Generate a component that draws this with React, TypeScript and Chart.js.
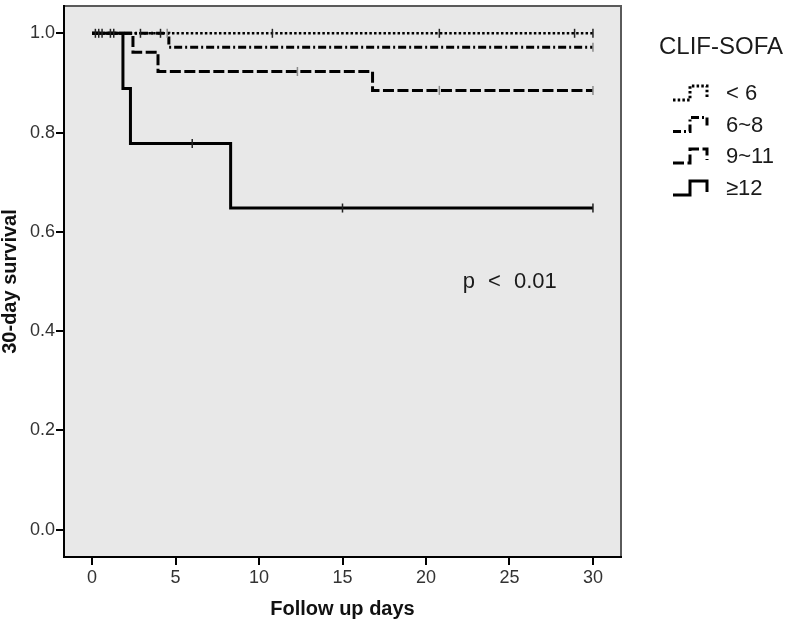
import React, { useEffect, useRef } from 'react';
import { Chart, registerables } from 'chart.js';

Chart.register(...registerables);

// ---- data ----
const legendTitle = 'CLIF-SOFA';
const groupLabels = ['< 6', '6~8', '9~11', '≥12'];
const pValueText = 'p < 0.01';
const xTitle = 'Follow up days';
const yTitle = '30-day survival';
const xTicks = [0, 5, 10, 15, 20, 25, 30];
const yTicks = [0, 0.2, 0.4, 0.6, 0.8, 1.0];

// Kaplan-Meier steps: event times (days) and survival after the event
const lt6Times = [0, 30];
const lt6Surv = [1, 1];
const s6to8Times = [0, 4.6, 30];
const s6to8Surv = [1, 0.972, 0.972];
const s9to11Times = [0, 2.45, 3.95, 16.8, 30];
const s9to11Surv = [1, 0.962, 0.923, 0.885, 0.885];
const ge12Times = [0, 1.85, 2.3, 8.3, 30];
const ge12Surv = [1, 0.889, 0.778, 0.648, 0.648];

// censored observations (days)
const lt6Censor = [0.2, 0.4, 0.6, 1.1, 1.3, 2.9, 4.1, 10.8, 20.8, 28.9, 30];
const s6to8Censor = [4.5, 30];
const s9to11Censor = [12.3, 20.8, 30];
const ge12Censor = [6.0, 15.0, 30];

const NARROW = "'Liberation Sans Narrow', 'Arial Narrow', 'Liberation Sans', Arial, sans-serif";
const SANS = "'Liberation Sans', Arial, sans-serif";

const dashes = [[2.5, 2.2], [8, 3, 2, 3], [11, 3.5], []];
const censorColors = ['#222', '#8a8a8a', '#8a8a8a', '#222'];

function survAt(times: number[], surv: number[], t: number) {
  let s = surv[0];
  for (let i = 0; i < times.length; i++) if (times[i] <= t) s = surv[i];
  return s;
}

const groups = [
  { times: lt6Times, surv: lt6Surv, censor: lt6Censor },
  { times: s6to8Times, surv: s6to8Surv, censor: s6to8Censor },
  { times: s9to11Times, surv: s9to11Surv, censor: s9to11Censor },
  { times: ge12Times, surv: ge12Surv, censor: ge12Censor },
];

const bgPlugin = {
  id: 'plotBg',
  beforeDraw(chart: any) {
    const { ctx, chartArea } = chart;
    const { left, top, right, bottom } = chartArea;
    ctx.save();
    ctx.fillStyle = '#e8e8e8';
    ctx.fillRect(left, top, right - left, bottom - top);
    ctx.strokeStyle = '#5a5a5a';
    ctx.lineWidth = 2;
    ctx.beginPath();
    ctx.moveTo(left, top);
    ctx.lineTo(right, top);
    ctx.lineTo(right, bottom);
    ctx.stroke();
    ctx.restore();
  },
};

const legendPlugin = {
  id: 'kmLegend',
  afterDraw(chart: any) {
    const { ctx, chartArea, scales } = chart;
    const { right, top } = chartArea;
    ctx.save();
    // p-value annotation
    ctx.fillStyle = '#1a1a1a';
    ctx.font = `22px ${SANS}`;
    ctx.textBaseline = 'middle';
    ctx.textAlign = 'left';
    (ctx as any).wordSpacing = '7px';
    ctx.fillText(pValueText, scales.x.getPixelForValue(22.2), scales.y.getPixelForValue(0.5));
    (ctx as any).wordSpacing = '0px';

    // legend title
    ctx.font = `24px ${SANS}`;
    ctx.fillText(legendTitle, right + 38, top + 41);

    const rowY = [top + 88, top + 119.5, top + 151, top + 183];
    groupLabels.forEach((lab, i) => {
      const cy = rowY[i];
      const x0 = right + 52;
      ctx.strokeStyle = '#000';
      ctx.lineWidth = 3;
      ctx.lineCap = 'butt';
      ctx.lineJoin = 'miter';
      ctx.setLineDash(dashes[i]);
      ctx.beginPath();
      ctx.moveTo(x0, cy + 6);
      ctx.lineTo(x0 + 17, cy + 6);
      ctx.lineTo(x0 + 17, cy - 8);
      ctx.lineTo(x0 + 34, cy - 8);
      ctx.lineTo(x0 + 34, cy + 3);
      ctx.stroke();
      ctx.setLineDash([]);
      ctx.fillStyle = '#1a1a1a';
      ctx.font = `22px ${SANS}`;
      ctx.fillText(lab, right + 105, cy);
    });
    ctx.restore();
  },
};

export default function App() {
  const ref = useRef<HTMLCanvasElement | null>(null);

  useEffect(() => {
    if (!ref.current) return;
    const datasets: any[] = [];
    groups.forEach((g, i) => {
      datasets.push({
        label: groupLabels[i],
        data: g.times.map((t, k) => ({ x: t, y: g.surv[k] })),
        stepped: true,
        borderColor: '#000',
        borderWidth: i === 0 ? 2.6 : 3,
        borderDash: dashes[i],
        borderCapStyle: 'butt',
        borderJoinStyle: 'miter',
        pointRadius: 0,
        fill: false,
        order: 1,
      });
    });
    groups.forEach((g, i) => {
      datasets.push({
        label: groupLabels[i] + ' censored',
        data: g.censor.map((t) => ({ x: t, y: survAt(g.times, g.surv, t) })),
        showLine: false,
        pointStyle: 'line',
        pointRotation: 90,
        pointRadius: 4.5,
        pointBorderColor: censorColors[i],
        pointBorderWidth: 1.5,
        pointBackgroundColor: censorColors[i],
        order: 0,
      });
    });

    const tickFont = { family: NARROW, size: 18 };
    const chart = new Chart(ref.current, {
      type: 'line',
      data: { datasets },
      plugins: [bgPlugin, legendPlugin],
      options: {
        animation: false,
        responsive: false,
        layout: { padding: { left: 0, right: 179, top: 2, bottom: 0 } },
        plugins: { legend: { display: false }, tooltip: { enabled: false } },
        scales: {
          x: {
            type: 'linear',
            min: -1.68,
            max: 31.68,
            afterBuildTicks: (s: any) => {
              s.ticks = xTicks.map((v) => ({ value: v }));
            },
            afterFit: (s: any) => {
              s.height = 64;
              s.paddingLeft = 0;
              s.paddingRight = 0;
            },
            ticks: {
              color: '#333',
              font: tickFont,
              padding: 2,
              maxRotation: 0,
              autoSkip: false,
              callback: (v: any) => String(v),
            },
            grid: { drawOnChartArea: false, drawTicks: true, tickLength: 8, color: '#000', lineWidth: 2 },
            border: { display: true, color: '#000', width: 2 },
            title: {
              display: true,
              text: xTitle,
              color: '#111',
              font: { family: SANS, size: 20, weight: 'bold', lineHeight: 1.2 },
              padding: { top: 0, bottom: 0 },
            },
          },
          y: {
            type: 'linear',
            min: -0.055,
            max: 1.055,
            afterBuildTicks: (s: any) => {
              s.ticks = yTicks.map((v) => ({ value: v }));
            },
            afterFit: (s: any) => {
              s.width = 64;
              s.paddingTop = 0;
              s.paddingBottom = 0;
            },
            ticks: {
              color: '#333',
              font: tickFont,
              padding: 1,
              autoSkip: false,
              callback: (v: any) => Number(v).toFixed(1),
            },
            grid: { drawOnChartArea: false, drawTicks: true, tickLength: 8, color: '#000', lineWidth: 2 },
            border: { display: true, color: '#000', width: 2 },
            title: {
              display: true,
              text: yTitle,
              color: '#111',
              font: { family: SANS, size: 20, weight: 'bold', lineHeight: 1.0 },
              padding: { top: 0, bottom: 0 },
            },
          },
        },
      } as any,
    });
    return () => chart.destroy();
  }, []);

  return (
    <div style={{ position: 'absolute', left: 0, top: 0, width: 800, height: 621, background: '#fff' }}>
      <canvas ref={ref} width={800} height={621} />
    </div>
  );
}
